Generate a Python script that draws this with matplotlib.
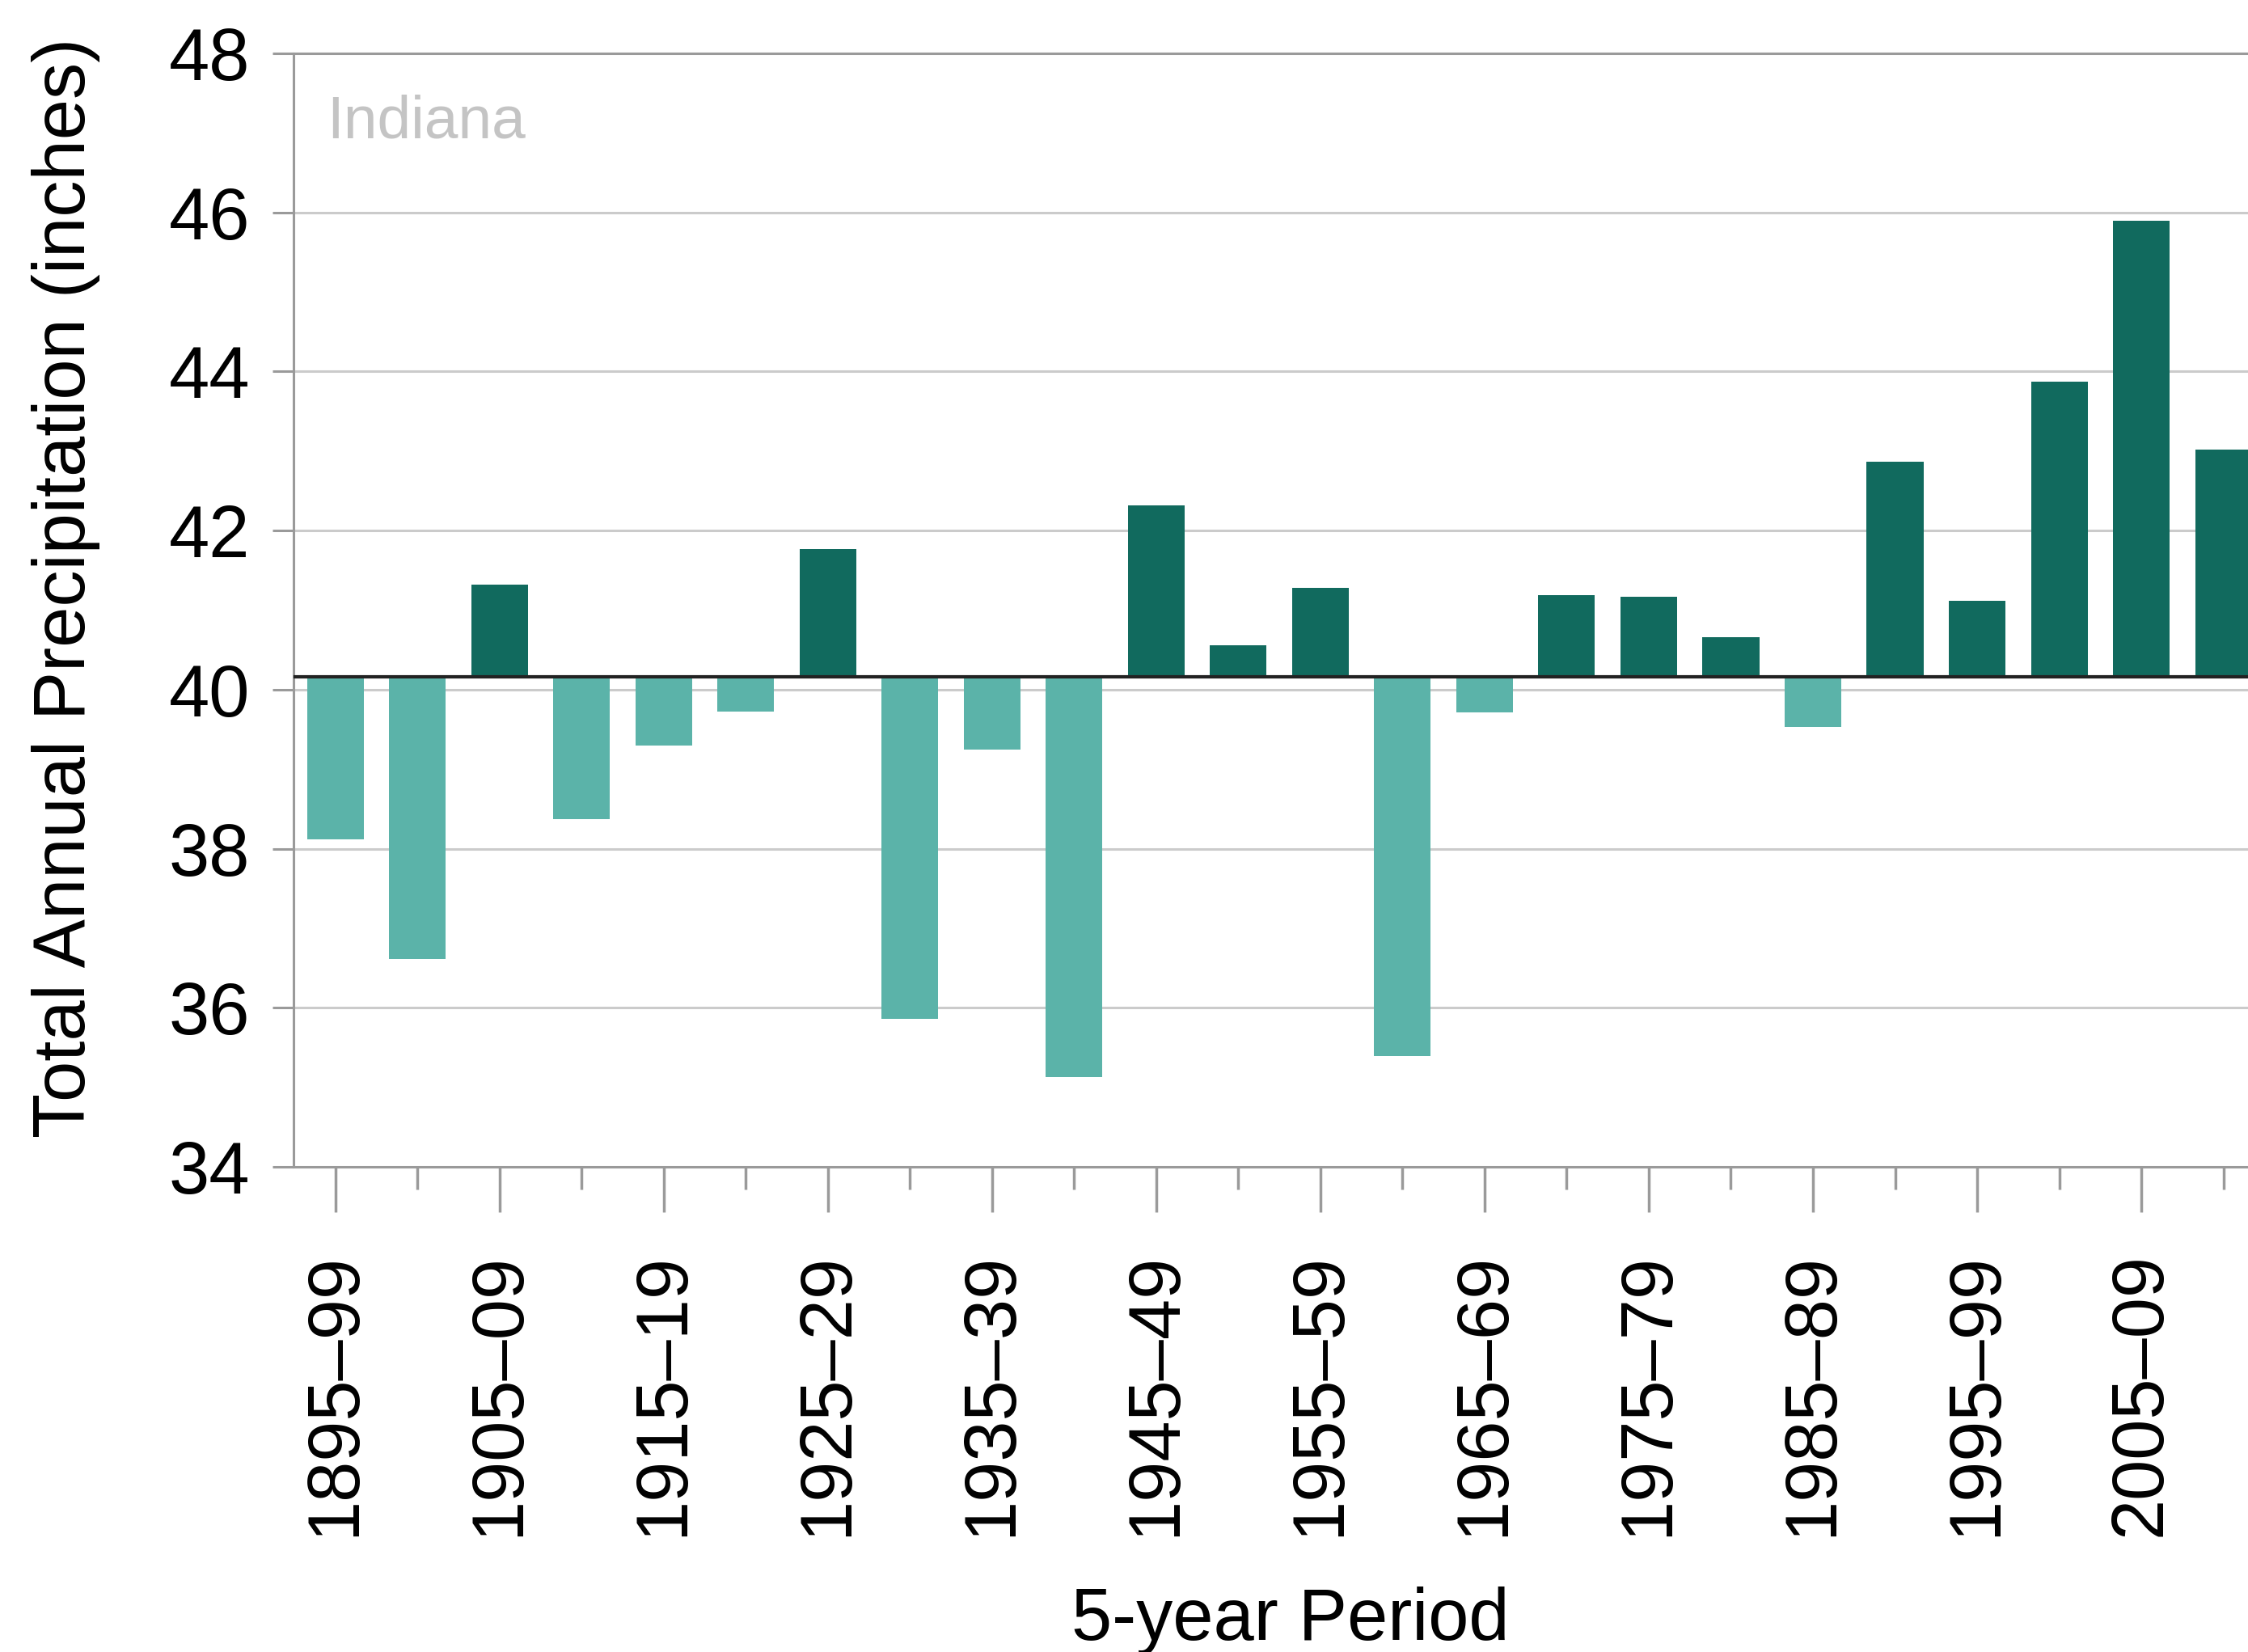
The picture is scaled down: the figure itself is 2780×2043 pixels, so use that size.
import matplotlib
matplotlib.use("Agg")
import matplotlib.pyplot as plt
import numpy as np

# 5-year periods and total annual precipitation (inches), Indiana
periods = ["1895\u201399", "1900\u201304", "1905\u201309", "1910\u201314", "1915\u201319",
           "1920\u201324", "1925\u201329", "1930\u201334", "1935\u201339", "1940\u201344",
           "1945\u201349", "1950\u201354", "1955\u201359", "1960\u201364", "1965\u201369",
           "1970\u201374", "1975\u201379", "1980\u201384", "1985\u201389", "1990\u201394",
           "1995\u201399", "2000\u201304", "2005\u201309", "2010\u201314"]
precip = [38.12, 36.61, 41.32, 38.37, 39.30, 39.72, 41.77, 35.86, 39.25, 35.13,
          42.32, 40.56, 41.28, 35.39, 39.71, 41.19, 41.17, 40.66, 39.53, 42.87,
          41.12, 43.87, 45.90, 43.02]
baseline = 40.16
yticks = [34, 36, 38, 40, 42, 44, 46, 48]

dark = '#116a5e'
light = '#5bb3a9'
gray = '#9a9a9a'

plt.rcParams['font.family'] = ['Liberation Sans', 'DejaVu Sans']

fig = plt.figure(figsize=(27.8, 20.43), dpi=100)
ax = fig.add_axes([0.1306, 0.2937, 0.8694, 0.674])

x = np.arange(len(precip))
vals = np.array(precip)
colors = [dark if v >= baseline else light for v in vals]
ax.bar(x, vals - baseline, bottom=baseline, width=0.69, color=colors, zorder=2)
ax.axhline(baseline, color='#222222', linewidth=3, zorder=3)

ax.set_xlim(-0.51, 23.3)
ax.set_ylim(34, 48)
ax.set_yticks(yticks)
ax.set_yticklabels([str(t) for t in yticks])
for t in yticks[1:-1]:
    ax.axhline(t, color='#cbcbcb', linewidth=2.2, zorder=1)

ax.set_xticks(x[::2])
ax.set_xticklabels(periods[::2], rotation=90)
ax.set_xticks(x[1::2], minor=True)

ax.spines['right'].set_visible(False)
for s in ['left', 'bottom', 'top']:
    ax.spines[s].set_color(gray)
    ax.spines[s].set_linewidth(2.2)

ax.tick_params(axis='y', direction='out', length=19, width=2.2, color=gray,
               labelsize=65, pad=20)
ax.tick_params(axis='x', which='major', direction='out', length=40, width=2.5,
               color=gray, labelsize=65, pad=36)
ax.tick_params(axis='x', which='minor', direction='out', length=20, width=2.5,
               color=gray)

ax.set_ylabel('Total Annual Precipitation (inches)', fontsize=65)
ax.yaxis.set_label_coords(-0.099, 0.52)
ax.set_xlabel('5-year Period', fontsize=65)
ax.xaxis.set_label_coords(0.51, -0.408)
ax.xaxis.label.set_va('center')

ax.text(0.017, 0.938, 'Indiana', transform=ax.transAxes, fontsize=54,
        color='#c4c4c4', va='center', ha='left')

fig.savefig('out.png', dpi=100)
